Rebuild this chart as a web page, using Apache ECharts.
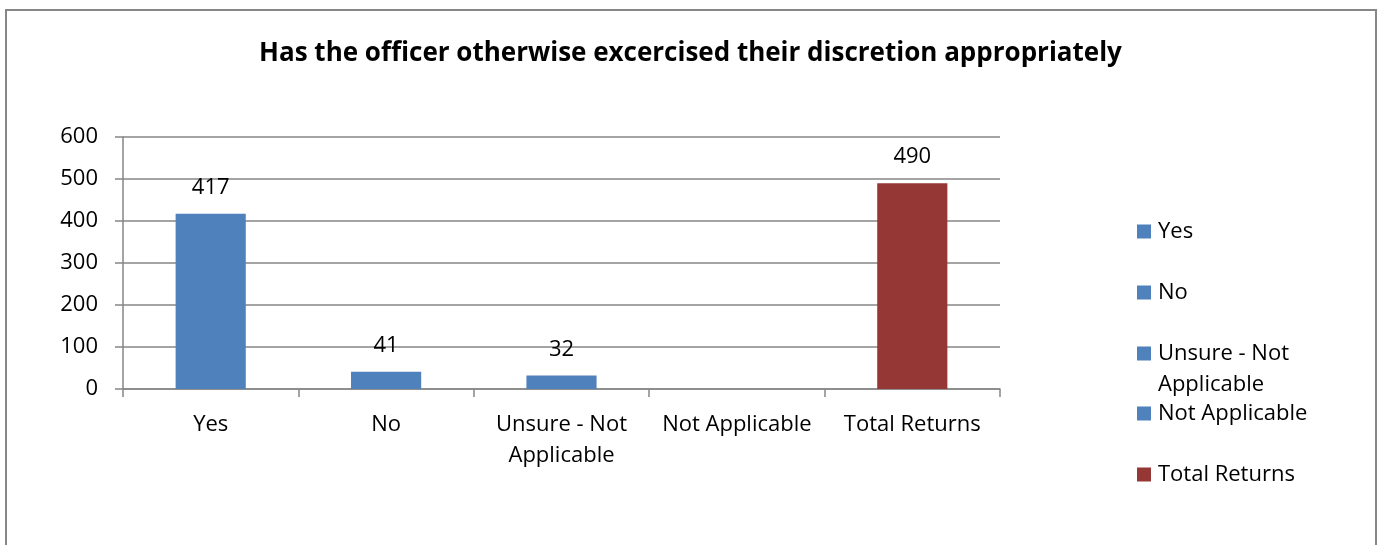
<!DOCTYPE html>
<html>
<head>
<meta charset="utf-8">
<script src="https://cdn.jsdelivr.net/npm/echarts@6/dist/echarts.min.js"></script>
<style>
  html, body { margin: 0; padding: 0; background: #fff; }
  #chart { width: 1381px; height: 545px; }
</style>
</head>
<body>
<div id="chart"></div>
<script>
// Survey responses: one bar per answer plus the total
const categories = ['Yes', 'No', 'Unsure - Not Applicable', 'Not Applicable', 'Total Returns'];
const values = [417, 41, 32, null, 490];
const colors = ['#4F81BD', '#4F81BD', '#4F81BD', '#4F81BD', '#953735'];
const yTicks = { min: 0, max: 600, interval: 100 };

const FONT = 'Open Sans';
const FS = 22;
const wrap = s => s === 'Unsure - Not Applicable' ? 'Unsure - Not\nApplicable' : s;

// Each answer is its own series so the legend lists every category;
// stacking keeps each bar centred on its own slot.
const series = categories.map((name, i) => ({
  name: name,
  type: 'bar',
  stack: 'answers',
  barWidth: '40%',
  itemStyle: { color: colors[i] },
  label: {
    show: true,
    position: 'top',
    distance: 15,
    color: '#000',
    fontFamily: FONT,
    fontSize: FS
  },
  data: categories.map((c, j) => (j === i && values[i] != null ? values[i] : '-'))
}));

// One legend block per entry so each sits at its own row;
// the wrapped entry gets a blank leading line so the marker sits level
// with its first line of text.
const legendCentres = [230, 291, 352, 412, 473];
const legends = categories.map((name, i) => {
  const wrapped = wrap(name) !== name;
  return {
    data: [name],
    left: 1137,
    top: legendCentres[i] - (wrapped ? 46.5 : 15.5),
    padding: 0,
    orient: 'vertical',
    icon: 'rect',
    itemWidth: 14,
    itemHeight: 14,
    itemGap: 0,
    selectedMode: false,
    formatter: s => (wrapped ? ' \n' + wrap(s) : s),
    textStyle: {
      color: '#000', fontFamily: FONT, fontSize: FS, lineHeight: 31,
      padding: [3, 0, 0, 2]
    }
  };
});

const chart = echarts.init(document.getElementById('chart'));
chart.setOption({
  animation: false,
  title: {
    text: 'Has the officer otherwise excercised their discretion appropriately',
    left: 'center',
    top: 36,
    textStyle: { fontFamily: FONT, fontWeight: 'bold', fontSize: 26, color: '#000' }
  },
  graphic: [{
    type: 'rect',
    shape: { x: 6, y: 10, width: 1370, height: 560 },
    style: { fill: 'none', stroke: '#878787', lineWidth: 2 },
    silent: true
  }],
  legend: legends,
  grid: { left: 123, right: 381, top: 137, bottom: 156 },
  xAxis: {
    type: 'category',
    data: categories,
    axisLine: { lineStyle: { color: '#868686', width: 1.5 } },
    axisTick: { show: true, length: 8, lineStyle: { color: '#868686', width: 1.5 } },
    axisLabel: {
      color: '#000', fontFamily: FONT, fontSize: FS, lineHeight: 31, margin: 20,
      interval: 0, formatter: wrap
    }
  },
  yAxis: {
    type: 'value',
    min: yTicks.min,
    max: yTicks.max,
    interval: yTicks.interval,
    axisLine: { show: true, lineStyle: { color: '#868686', width: 1.5 } },
    axisTick: { show: true, length: 8, lineStyle: { color: '#868686', width: 1.5 } },
    splitLine: { lineStyle: { color: '#868686', width: 1.5 } },
    axisLabel: { color: '#000', fontFamily: FONT, fontSize: FS, margin: 25 }
  },
  series: series
});
</script>
</body>
</html>
